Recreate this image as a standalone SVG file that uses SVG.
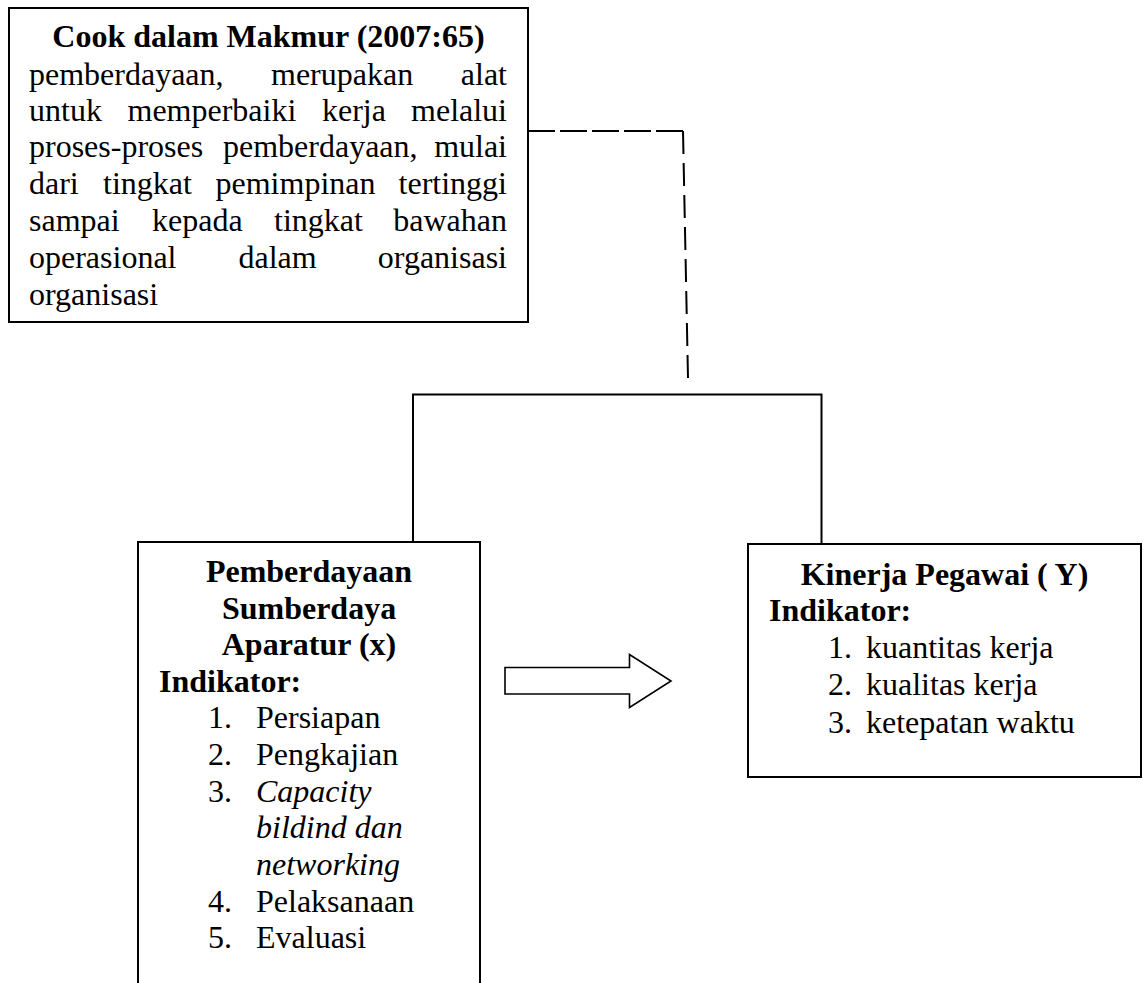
<svg xmlns="http://www.w3.org/2000/svg" width="1144" height="983" viewBox="0 0 1144 983">
<style>
text{font-family:"Liberation Serif","Times New Roman",serif;font-size:32px;fill:#000}
.b{font-weight:bold}
.c{text-anchor:middle}
.e{text-anchor:end}
.i{font-style:italic}
.box{fill:#fff;stroke:#000;stroke-width:2}
.ln{fill:none;stroke:#000;stroke-width:2}
</style>
<rect width="1144" height="983" fill="#fff"/>
<g id="connectors">
<line class="ln" x1="528" y1="131" x2="683" y2="131" stroke-dasharray="27 5"/>
<line class="ln" x1="683" y1="131" x2="688" y2="378" stroke-dasharray="23 9"/>
<path class="ln" d="M413,542 V394.5 H821.5 V544"/>
<polygon points="505,667.5 629.5,667.5 629.5,654.5 671,681 629.5,707.5 629.5,694 505,694" fill="#fff" stroke="#000" stroke-width="1.6"/>
</g>
<g id="theory">
<rect class="box" x="9" y="8" width="519" height="314"/>
<text class="b c" x="268.5" y="47">Cook dalam Makmur (2007:65)</text>
<text x="29" y="85">pemberdayaan,</text><text x="271" y="85">merupakan</text><text class="e" x="507" y="85">alat</text>
<text x="29" y="121">untuk</text><text x="127.5" y="121">memperbaiki</text><text x="322" y="121">kerja</text><text class="e" x="507" y="121">melalui</text>
<text x="29" y="157">proses-proses</text><text x="223" y="157">pemberdayaan,</text><text class="e" x="507" y="157">mulai</text>
<text x="29" y="194">dari</text><text x="103" y="194">tingkat</text><text x="215.5" y="194">pemimpinan</text><text class="e" x="507" y="194">tertinggi</text>
<text x="29" y="231">sampai</text><text x="152" y="231">kepada</text><text x="274" y="231">tingkat</text><text class="e" x="507" y="231">bawahan</text>
<text x="29" y="268">operasional</text><text x="238.5" y="268">dalam</text><text class="e" x="507" y="268">organisasi</text>
<text x="29" y="305">organisasi</text>
</g>
<g id="var-x">
<rect class="box" x="138" y="542" width="342" height="460"/>
<text class="b c" x="309" y="582">Pemberdayaan</text>
<text class="b c" x="309" y="619">Sumberdaya</text>
<text class="b c" x="309" y="655">Aparatur (x)</text>
<text class="b" x="159" y="692">Indikator:</text>
<text class="e" x="232" y="728">1.</text><text x="256" y="728">Persiapan</text>
<text class="e" x="232" y="765">2.</text><text x="256" y="765">Pengkajian</text>
<text class="e" x="232" y="802">3.</text><text class="i" x="256" y="802">Capacity</text>
<text class="i" x="256" y="838">bildind dan</text>
<text class="i" x="256" y="875">networking</text>
<text class="e" x="232" y="912">4.</text><text x="256" y="912">Pelaksanaan</text>
<text class="e" x="232" y="948">5.</text><text x="256" y="948">Evaluasi</text>
</g>
<g id="var-y">
<rect class="box" x="748" y="544" width="393" height="233"/>
<text class="b c" x="944.5" y="585">Kinerja Pegawai ( Y)</text>
<text class="b" x="769" y="621">Indikator:</text>
<text class="e" x="852" y="658">1.</text><text x="866" y="658">kuantitas kerja</text>
<text class="e" x="852" y="695">2.</text><text x="866" y="695">kualitas kerja</text>
<text class="e" x="852" y="733">3.</text><text x="866" y="733">ketepatan waktu</text>
</g>
</svg>
